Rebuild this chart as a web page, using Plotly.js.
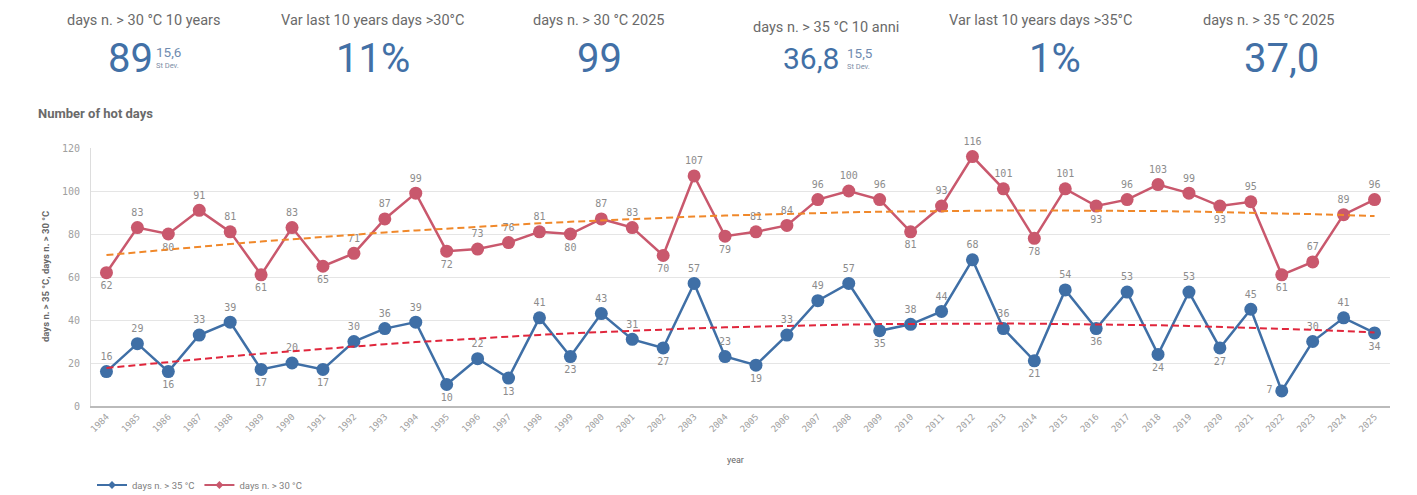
<!DOCTYPE html>
<html>
<head>
<meta charset="utf-8">
<script src="https://cdn.plot.ly/plotly-3.0.1.min.js"></script>
<style>
html,body{margin:0;padding:0;background:#fff;}
#chart{width:1417px;height:495px;}
</style>
</head>
<body>
<div id="chart"></div>
<script>
// ---- data ----
const years = ["1984","1985","1986","1987","1988","1989","1990","1991","1992","1993","1994","1995","1996","1997","1998","1999","2000","2001","2002","2003","2004","2005","2006","2007","2008","2009","2010","2011","2012","2013","2014","2015","2016","2017","2018","2019","2020","2021","2022","2023","2024","2025"];
const days35 = [16,29,16,33,39,17,20,17,30,36,39,10,22,13,41,23,43,31,27,57,23,19,33,49,57,35,38,44,68,36,21,54,36,53,24,53,27,45,7,30,41,34];
const days30 = [62,83,80,91,81,61,83,65,71,87,99,72,73,76,81,80,87,83,70,107,79,81,84,96,100,96,81,93,116,101,78,101,93,96,103,99,93,95,61,67,89,96];
const yTicks = [0,20,40,60,80,100,120];
const seriesNames = ["days n. > 35 °C","days n. > 30 °C"];
const kpiTitles = ["days n. > 30 °C 10 years","Var last 10 years days >30°C","days n. > 30 °C 2025","days n. > 35 °C 10 anni","Var last 10 years days >35°C","days n. > 35 °C 2025"];
const kpiValues = ["89","11%","99","36,8","1%","37,0"];
const kpiStdDev = ["15,6",null,null,"15,5",null,null];

// ---- helpers ----
const W=1417, H=495;
const L=91, R=1390, T=148, B=406;
const px = x => (x-L)/(R-L);
const py = y => (B-y)/(B-T);

function quadFit(vals){
  let s=[0,0,0,0,0], sy=[0,0,0];
  vals.forEach((v,i)=>{ let p=1; for(let k=0;k<5;k++){ s[k]+=p; if(k<3) sy[k]+=v*p; p*=i; } });
  const M=[[s[0],s[1],s[2],sy[0]],[s[1],s[2],s[3],sy[1]],[s[2],s[3],s[4],sy[2]]];
  for(let c=0;c<3;c++){ for(let r=c+1;r<3;r++){ const f=M[r][c]/M[c][c]; for(let k=c;k<4;k++) M[r][k]-=f*M[c][k]; } }
  const x=[0,0,0];
  for(let r=2;r>=0;r--){ let v=M[r][3]; for(let k=r+1;k<3;k++) v-=M[r][k]*x[k]; x[r]=v/M[r][r]; }
  return vals.map((_,i)=>x[0]+x[1]*i+x[2]*i*i);
}
function labelPos(vals, overrides){
  return vals.map((v,i)=>{
    if(overrides[i]) return overrides[i];
    const prev = i>0?vals[i-1]:Infinity, next = i<vals.length-1?vals[i+1]:Infinity;
    return (v<prev && v<next) ? 'bottom center' : 'top center';
  });
}

const blue='#3f6fa6', red='#c9586d';
const labelFont={family:'DejaVu Sans Mono, monospace', size:10, color:'#8c8c8c'};

const traces=[
  {x:years,y:days35,name:seriesNames[0],type:'scatter',mode:'lines+markers+text',showlegend:false,
   line:{color:blue,width:2.5},marker:{color:blue,size:13},
   text:days35.map(String),textposition:labelPos(days35,{0:'top center',38:'middle left'}),
   textfont:labelFont,hoverinfo:'skip',cliponaxis:false},
  {x:years,y:days30,name:seriesNames[1],type:'scatter',mode:'lines+markers+text',showlegend:false,
   line:{color:red,width:2.5},marker:{color:red,size:13},
   text:days30.map(String),textposition:labelPos(days30,{}),
   textfont:labelFont,hoverinfo:'skip',cliponaxis:false},
  {x:years,y:quadFit(days30),type:'scatter',mode:'lines',showlegend:false,hoverinfo:'skip',
   line:{color:'#f0882a',width:2,dash:'7px,4px'}},
  {x:years,y:quadFit(days35),type:'scatter',mode:'lines',showlegend:false,hoverinfo:'skip',
   line:{color:'#e0263c',width:2,dash:'7px,4px'}},
  // legend-only entries (small markers like the reference); y is null so nothing is plotted
  {x:[years[0]],y:[null],name:seriesNames[0],type:'scatter',mode:'lines+markers',hoverinfo:'skip',
   line:{color:blue,width:2},marker:{color:blue,size:6,symbol:'diamond'}},
  {x:[years[0]],y:[null],name:seriesNames[1],type:'scatter',mode:'lines+markers',hoverinfo:'skip',
   line:{color:red,width:2},marker:{color:red,size:6,symbol:'diamond'}}
];

const ann=[];
const titleX=[144,372,598,826,1040,1268];
const titleY=[20,20,20,27,20,20];
const valX=[130,373,599,811,1055,1281];
const valY=[58,58,58,58,58,58];
const valSize=[40,40,40,30,40,40];
const valFont='Roboto, sans-serif';
kpiTitles.forEach((t,i)=>{
  ann.push({text:t,x:px(titleX[i]),y:py(titleY[i]),xref:'paper',yref:'paper',showarrow:false,
    xanchor:'center',yanchor:'middle',font:{family:'Roboto, sans-serif',size:14.5,color:'#6a6a6a'}});
  ann.push({text:kpiValues[i],x:px(valX[i]),y:py(valY[i]),xref:'paper',yref:'paper',showarrow:false,
    xanchor:'center',yanchor:'middle',font:{family:valFont,size:valSize[i],color:'#4270a6'}});
});
const sdX=[154,null,null,845], sdY=[52,null,null,53], sdLy=[65,null,null,66];
kpiStdDev.forEach((s,i)=>{
  if(!s) return;
  ann.push({text:s,x:px(sdX[i]),y:py(sdY[i]),xref:'paper',yref:'paper',showarrow:false,
    xanchor:'left',yanchor:'middle',font:{family:'Roboto, sans-serif',size:13.5,color:'#6f8bb0'}});
  ann.push({text:'St Dev.',x:px(sdX[i]),y:py(sdLy[i]),xref:'paper',yref:'paper',showarrow:false,
    xanchor:'left',yanchor:'middle',font:{family:'Roboto, sans-serif',size:7.5,color:'#7d8ea6'}});
});
ann.push({text:'<b>Number of hot days</b>',x:px(36),y:py(113),xref:'paper',yref:'paper',showarrow:false,
  xanchor:'left',yanchor:'middle',font:{family:'Roboto, sans-serif',size:13,color:'#6a6a6a'}});
ann.push({text:'<b>days n. > 35 °C, days n. > 30 °C</b>',x:px(45),y:py(277),xref:'paper',yref:'paper',showarrow:false,
  textangle:-90,xanchor:'center',yanchor:'middle',font:{family:'Roboto, sans-serif',size:9.5,color:'#666'}});
ann.push({text:'year',x:px(735),y:py(460),xref:'paper',yref:'paper',showarrow:false,
  xanchor:'center',yanchor:'middle',font:{family:'Roboto, sans-serif',size:9,color:'#666'}});

const layout={
  width:W,height:H,margin:{l:L,r:W-R,t:T,b:H-B},
  paper_bgcolor:'#fff',plot_bgcolor:'#fff',
  showlegend:true,
  legend:{orientation:'h',xref:'container',yref:'container',x:92/W,y:(H-485)/H,xanchor:'left',yanchor:'middle',
    itemwidth:30,tracegroupgap:0,
    font:{family:'Roboto, sans-serif',size:9.5,color:'#808080'}},
  xaxis:{type:'category',range:[-0.5,years.length-0.5],tickangle:-45,
    tickfont:{family:'DejaVu Sans Mono, monospace',size:9,color:'#a0a0a0'},
    showline:true,linecolor:'#bbb',linewidth:2,showgrid:false,ticks:'',automargin:false},
  yaxis:{range:[0,120],tickvals:yTicks,ticktext:yTicks.map(String),ticklabelstandoff:8,
    tickfont:{family:'DejaVu Sans Mono, monospace',size:10,color:'#a0a0a0'},
    gridcolor:'#e5e5e5',showline:true,linecolor:'#ddd',linewidth:1,zeroline:false,ticks:'',automargin:false},
  annotations:ann
};
Plotly.newPlot('chart',traces,layout,{displayModeBar:false,staticPlot:true});
</script>
</body>
</html>
